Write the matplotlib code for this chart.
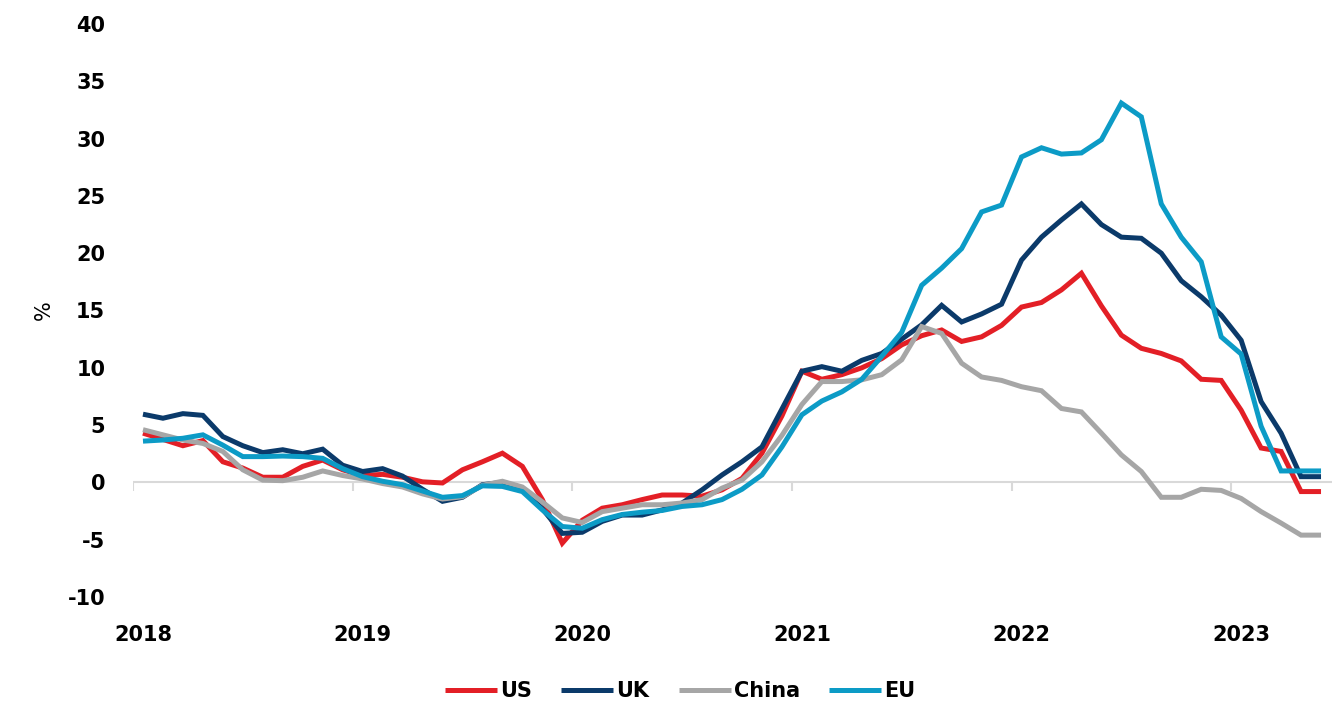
import matplotlib
matplotlib.use("Agg")
import matplotlib.pyplot as plt
import numpy as np

# monthly readings, Jan 2018 onwards (60 points)
us = [4.3, 3.75, 3.2, 3.65, 1.8, 1.25, 0.45, 0.45, 1.4, 1.95, 1.1, 0.6,
      0.7, 0.45, 0.05, -0.05, 1.1, 1.8, 2.55, 1.4, -1.5, -5.3, -3.3, -2.25,
      -1.95, -1.5, -1.1, -1.1, -1.2, -0.65, 0.35, 2.55, 5.8, 9.7, 9.0, 9.4,
      10.0, 10.8, 12.0, 12.8, 13.3, 12.3, 12.7, 13.7, 15.3, 15.7, 16.8, 18.25,
      15.4, 12.85, 11.7, 11.25, 10.6, 9.0, 8.9, 6.3, 3.0, 2.7, -0.8, -0.8]
uk = [5.95, 5.6, 6.0, 5.85, 4.0, 3.2, 2.6, 2.85, 2.5, 2.9, 1.5, 0.95,
      1.2, 0.55, -0.6, -1.65, -1.3, -0.2, 0.0, -0.5, -2.3, -4.45, -4.35, -3.4,
      -2.85, -2.85, -2.4, -1.8, -0.65, 0.65, 1.8, 3.1, 6.4, 9.7, 10.1, 9.7,
      10.65, 11.25, 12.5, 13.75, 15.45, 14.0, 14.7, 15.55, 19.4, 21.4, 22.9, 24.3,
      22.5, 21.4, 21.3, 20.0, 17.6, 16.2, 14.6, 12.4, 7.05, 4.3, 0.5, 0.5]
china = [4.6, 4.15, 3.7, 3.4, 2.7, 1.1, 0.2, 0.15, 0.45, 1.0, 0.6, 0.3,
         -0.1, -0.4, -1.0, -1.45, -1.25, -0.25, 0.1, -0.4, -1.7, -3.1, -3.5, -2.55,
         -2.25, -1.95, -1.95, -1.8, -1.5, -0.5, 0.2, 1.8, 4.1, 6.8, 8.8, 8.8,
         8.95, 9.4, 10.7, 13.6, 13.0, 10.4, 9.2, 8.9, 8.35, 8.0, 6.45, 6.15,
         4.3, 2.4, 0.95, -1.3, -1.3, -0.6, -0.7, -1.4, -2.55, -3.55, -4.6, -4.6]
eu = [3.6, 3.7, 3.85, 4.15, 3.25, 2.25, 2.25, 2.3, 2.25, 2.1, 1.2, 0.5,
      0.1, -0.2, -0.75, -1.3, -1.15, -0.3, -0.35, -0.8, -2.4, -3.85, -4.0, -3.25,
      -2.8, -2.6, -2.45, -2.1, -1.95, -1.5, -0.6, 0.65, 3.1, 5.9, 7.1, 7.9,
      9.0, 11.0, 13.1, 17.2, 18.7, 20.4, 23.6, 24.2, 28.4, 29.2, 28.65, 28.75,
      29.9, 33.1, 31.9, 24.3, 21.4, 19.25, 12.7, 11.2, 4.9, 1.0, 1.0, 1.0]

year_labels = ["2018", "2019", "2020", "2021", "2022", "2023"]
label_step = 11

series = [("US", us, "#E31F26"), ("UK", uk, "#0B3A6A"),
          ("China", china, "#A6A6A6"), ("EU", eu, "#0C9BC6")]

plt.rcParams["font.family"] = ["DejaVu Sans"]
plt.rcParams["axes.unicode_minus"] = False

fig = plt.figure(figsize=(13.42, 7.07), dpi=100)
ax = fig.add_axes([133 / 1342, 1 - 597 / 707, 1199 / 1342, 573 / 707])

x = np.arange(len(us))
for name, vals, col in series:
    ax.plot(x, vals, color=col, lw=3.6, label=name, solid_joinstyle="miter",
            solid_capstyle="butt", zorder=3)

# zero line with small category-boundary ticks
ax.axhline(0, color="#D9D9D9", lw=1.5, zorder=1)
bounds = np.arange(0, len(us) + 1, label_step) - 0.5
ax.vlines(bounds, -0.75, 0, color="#D9D9D9", lw=1.5, zorder=1)

ax.set_xlim(-0.5, len(us) - 0.45)
ax.set_ylim(-10, 40)
ax.set_yticks(np.arange(-10, 41, 5))
ax.set_xticks(np.arange(len(year_labels)) * label_step)
ax.set_xticklabels(year_labels)
ax.tick_params(axis="both", length=0, labelsize=15)
ax.tick_params(axis="y", pad=20)
ax.tick_params(axis="x", pad=20)
for lab in ax.get_xticklabels() + ax.get_yticklabels():
    lab.set_fontweight("bold")
for s in ax.spines.values():
    s.set_visible(False)

ax.set_ylabel("%", fontsize=15, labelpad=10)

fig.legend(loc="lower center", bbox_to_anchor=(0.507, -0.018), ncol=4,
           frameon=False, handlelength=2.5, handletextpad=0.15,
           columnspacing=1.4, prop={"size": 15, "weight": "bold"})

fig.savefig("out.png", dpi=100)
